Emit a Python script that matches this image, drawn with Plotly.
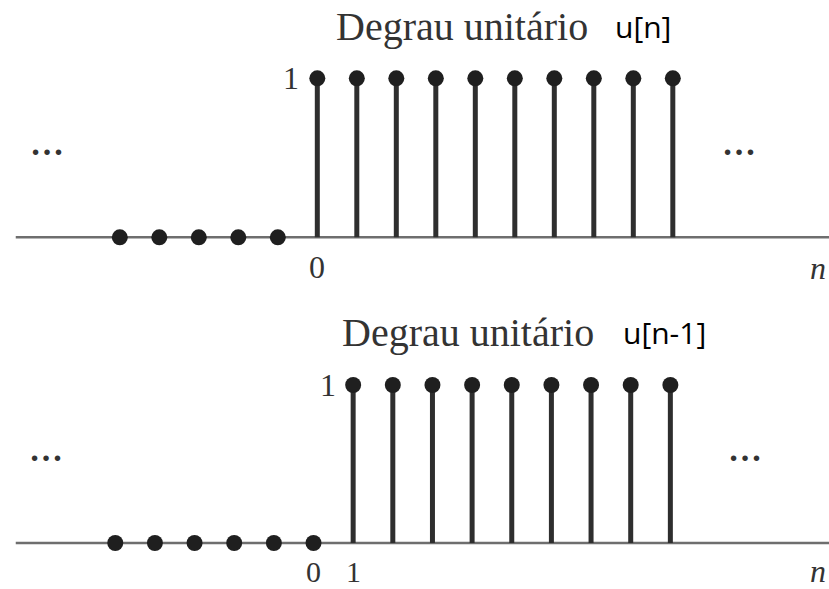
import plotly.graph_objects as go

# ---------------- data ----------------
n_top = [-5, -4, -3, -2, -1, 0, 1, 2, 3, 4, 5, 6, 7, 8, 9]
u_top = [0, 0, 0, 0, 0, 1, 1, 1, 1, 1, 1, 1, 1, 1, 1]

n_bot = [-5, -4, -3, -2, -1, 0, 1, 2, 3, 4, 5, 6, 7, 8, 9]
u_bot = [0, 0, 0, 0, 0, 0, 1, 1, 1, 1, 1, 1, 1, 1, 1]

title_main = "Degrau unitário"
title_top = "u[n]"
title_bot = "u[n-1]"
ticks_top = ["0"]
ticks_bot = ["0", "1"]

W, H = 829, 589
STEM = "#2e2e2e"
DOT = "#1f1f1f"
BASE = "#6e6e6e"
SERIF = "Liberation Serif, Times New Roman, serif"
SANS = "Open Sans, Noto Sans, sans-serif"


def px(x):
    return x / W


def py(y):
    return 1 - y / H


def stems(n, u):
    xs, ys = [], []
    for a, b in zip(n, u):
        if b != 0:
            xs += [a, a, None]
            ys += [0, b, None]
    return xs, ys


fig = go.Figure()

for (n, u, xa, ya) in [(n_top, u_top, "x", "y"), (n_bot, u_bot, "x2", "y2")]:
    sx, sy = stems(n, u)
    fig.add_trace(go.Scatter(x=sx, y=sy, mode="lines", xaxis=xa, yaxis=ya,
                             line=dict(color=STEM, width=5), hoverinfo="skip",
                             showlegend=False))
    fig.add_trace(go.Scatter(x=n, y=u, mode="markers", xaxis=xa, yaxis=ya,
                             marker=dict(color=DOT, size=16), showlegend=False))

shapes = [
    dict(type="line", xref="x domain", yref="y", x0=0.019, x1=1, y0=0, y1=0,
         line=dict(color=BASE, width=2.5), layer="below"),
    dict(type="line", xref="x2 domain", yref="y2", x0=0.019, x1=1, y0=0, y1=0,
         line=dict(color=BASE, width=2.5), layer="below"),
]

ann = []
# titles
ann.append(dict(x=px(334), y=py(27), xref="paper", yref="paper", text=title_main,
                xanchor="left", yanchor="middle", showarrow=False,
                font=dict(family=SERIF, size=40, color="#333333")))
ann.append(dict(x=px(613), y=py(27), xref="paper", yref="paper", text=title_top,
                xanchor="left", yanchor="middle", showarrow=False,
                font=dict(family=SANS, size=30, color="#000000")))
ann.append(dict(x=px(340), y=py(332), xref="paper", yref="paper", text=title_main,
                xanchor="left", yanchor="middle", showarrow=False,
                font=dict(family=SERIF, size=40, color="#333333")))
ann.append(dict(x=px(621), y=py(332), xref="paper", yref="paper", text=title_bot,
                xanchor="left", yanchor="middle", showarrow=False,
                font=dict(family=SANS, size=30, color="#000000")))

# "1" level labels
ann.append(dict(x=0, y=1, xref="x", yref="y", text="1", xshift=-26, showarrow=False,
                font=dict(family=SERIF, size=32, color="#333333")))
ann.append(dict(x=1, y=1, xref="x2", yref="y2", text="1", xshift=-25, showarrow=False,
                font=dict(family=SERIF, size=32, color="#333333")))

# tick labels
ann.append(dict(x=0, y=0, xref="x", yref="y", text=ticks_top[0], yshift=-30, showarrow=False,
                font=dict(family=SERIF, size=32, color="#333333")))
for i, t in enumerate(ticks_bot):
    ann.append(dict(x=i, y=0, xref="x2", yref="y2", text=t, yshift=-28, showarrow=False,
                    font=dict(family=SERIF, size=30, color="#333333")))

# n labels
for yy in (268, 571):
    ann.append(dict(x=px(808), y=py(yy), xref="paper", yref="paper", text="<i>n</i>",
                    xanchor="left", yanchor="middle", showarrow=False,
                    font=dict(family=SERIF, size=32, color="#333333")))

# ellipses
for (xx, yy) in [(47, 150), (739, 150), (46, 455), (745, 455)]:
    ann.append(dict(x=px(xx), y=py(yy), xref="paper", yref="paper", text="<b>…</b>",
                    xanchor="center", yanchor="middle", showarrow=False, yshift=6,
                    font=dict(family=SERIF, size=34, color="#333333")))

fig.update_layout(
    width=W, height=H,
    margin=dict(l=0, r=0, t=0, b=0),
    paper_bgcolor="white", plot_bgcolor="white",
    shapes=shapes, annotations=ann,
    xaxis=dict(domain=[0, 1], range=[-8.033, 12.954], visible=False, anchor="y"),
    yaxis=dict(domain=[0, 1], range=[-2.212, 1.4925], visible=False, anchor="x"),
    xaxis2=dict(domain=[0, 1], range=[-7.907, 13.001], visible=False, anchor="y2",
                overlaying="x"),
    yaxis2=dict(domain=[0, 1], range=[-0.291, 3.437], visible=False, anchor="x2",
                overlaying="y"),
)

fig.write_html("out.html",
               config={"displayModeBar": False},
               post_script="document.body.style.margin='0px';"
                           "document.body.style.overflow='hidden';")
